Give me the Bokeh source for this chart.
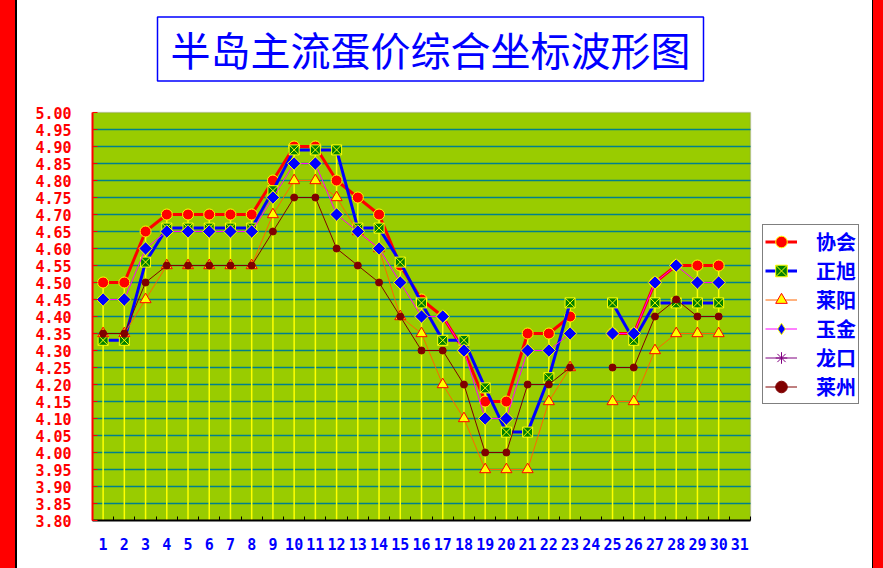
import numpy as np
from bokeh.plotting import figure
from bokeh.models import (Range1d, FixedTicker, NumeralTickFormatter, Legend, LegendItem,
                          ColumnDataSource, Label, BoxAnnotation)
from bokeh.embed import file_html
from bokeh.resources import INLINE

N = None
days = list(range(1, 32))
y_ticks = [3.80, 3.85, 3.90, 3.95, 4.00, 4.05, 4.10, 4.15, 4.20, 4.25, 4.30, 4.35, 4.40,
           4.45, 4.50, 4.55, 4.60, 4.65, 4.70, 4.75, 4.80, 4.85, 4.90, 4.95, 5.00]
title_text = "半岛主流蛋价综合坐标波形图"
names = ["协会", "正旭", "莱阳", "玉金", "龙口", "莱州"]

xiehui = [4.50, 4.50, 4.65, 4.70, 4.70, 4.70, 4.70, 4.70, 4.80, 4.90, 4.90, 4.80, 4.75, 4.70, 4.55, 4.45,
          4.40, 4.30, 4.15, 4.15, 4.35, 4.35, 4.40, N, 4.35, 4.35, 4.50, 4.55, 4.55, 4.55, N]
zhengxu = [4.33, 4.33, 4.56, 4.66, 4.66, 4.66, 4.66, 4.66, 4.77, 4.89, 4.89, 4.89, 4.66, 4.66, 4.56, 4.44,
           4.33, 4.33, 4.19, 4.06, 4.06, 4.22, 4.44, N, 4.44, 4.33, 4.44, 4.44, 4.44, 4.44, N]
laiyang = [4.35, 4.35, 4.45, 4.55, 4.55, 4.55, 4.55, 4.55, 4.70, 4.80, 4.80, 4.75, 4.65, 4.60, 4.40, 4.35,
           4.20, 4.10, 3.95, 3.95, 3.95, 4.15, 4.25, N, 4.15, 4.15, 4.30, 4.35, 4.35, 4.35, N]
yujin = [4.45, 4.45, 4.60, 4.65, 4.65, 4.65, 4.65, 4.65, 4.75, 4.85, 4.85, 4.70, 4.65, 4.60, 4.50, 4.40,
         4.40, 4.30, 4.10, 4.10, 4.30, 4.30, 4.35, N, 4.35, 4.35, 4.50, 4.55, 4.50, 4.50, N]
longkou = [N, N, N, N, N, N, N, N, N, N, N, N, N, N, N, N,
           N, N, N, N, N, N, N, N, N, N, N, N, N, N, N]
laizhou = [4.35, 4.35, 4.50, 4.55, 4.55, 4.55, 4.55, 4.55, 4.65, 4.75, 4.75, 4.60, 4.55, 4.50, 4.40, 4.30,
           4.30, 4.20, 4.00, 4.00, 4.20, 4.20, 4.25, N, 4.25, 4.25, 4.40, 4.45, 4.40, 4.40, N]

series = [xiehui, zhengxu, laiyang, yujin, longkou, laizhou]
arr = [np.array([np.nan if v is None else v for v in s], dtype=float) for s in series]

styles = [
    dict(lc="#FF0000", lw=3, marker="circle", size=11, fill="#FF0000", mline="#FFFF00", angle=0.0, lmarker="circle", lsize=11),
    dict(lc="#0000FF", lw=3, marker="square_x", size=10, fill="#008000", mline="#FFFF00", angle=0.0, lmarker="square_x", lsize=10),
    dict(lc="#FF6600", lw=1, marker="triangle", size=11, fill="#FFFF00", mline="#FF0000", angle=0.0, lmarker="triangle", lsize=11),
    dict(lc="#FF00FF", lw=1, marker="square", size=9.5, fill="#0000FF", mline="#FFFF00", angle=np.pi / 4, lmarker="diamond", lsize=16),
    dict(lc="#800080", lw=1, marker="asterisk", size=7, fill="#800080", mline="#800080", angle=0.0, lmarker="asterisk", lsize=7),
    dict(lc="#800000", lw=1, marker="circle", size=7, fill="#800000", mline="#800000", angle=0.0, lmarker="circle", lsize=6),
]

# ---- layout constants (pixels) ----
W, H = 883, 568
BL, BB = 92, 48                      # left / bottom borders
FRAME_W, FRAME_H = W - BL, H - BB    # frame spans to top & right edge
PLOT_W, PLOT_H = 658, 408            # size of the green plotting area
x0, x1 = 0.5, 31.5
y0, y1 = y_ticks[0], y_ticks[-1]
x_end = x0 + (x1 - x0) * FRAME_W / PLOT_W
y_end = y0 + (y1 - y0) * FRAME_H / PLOT_H

p = figure(width=W, height=H, x_range=Range1d(x0, x_end), y_range=Range1d(y0, y_end),
           output_backend="svg", toolbar_location=None,
           background_fill_color=None, border_fill_color=None,
           min_border_left=BL, min_border_right=0, min_border_top=0, min_border_bottom=BB,
           outline_line_color=None)
p.styles = {"background": "linear-gradient(to right, #FF0000 0px, #FF0000 15px, #000000 15px, "
                          "#000000 17px, #FFFFFF 17px, #FFFFFF calc(100% - 11px), #000000 calc(100% - 11px), "
                          "#000000 calc(100% - 10px), #FF0000 calc(100% - 10px))"}

# green plotting area with grey border
p.add_layout(BoxAnnotation(left=x0, right=x1, bottom=y0, top=y1, fill_color="#99CC00", fill_alpha=1,
                           line_color="#808080", line_width=1.5, level="underlay"))

p.xgrid.visible = False
p.ygrid.visible = False
gy = np.array(y_ticks[1:-1])
p.segment(x0=np.full(gy.shape, x0), y0=gy, x1=np.full(gy.shape, x1), y1=gy,
          line_color="#00808C", line_width=1.5)

ya = p.yaxis[0]
ya.bounds = (y0, y1)
ya.ticker = FixedTicker(ticks=y_ticks)
ya.formatter = NumeralTickFormatter(format="0.00")
ya.axis_line_color = "#FF0000"
ya.axis_line_width = 2
ya.major_tick_line_color = "#FF0000"
ya.major_tick_in = 5
ya.major_tick_out = 0
ya.minor_tick_line_color = None
ya.major_label_standoff = 21
ya.major_label_text_font = "DejaVu Sans Mono"
ya.major_label_text_font_size = "15px"
ya.major_label_text_font_style = "bold"
ya.major_label_text_color = "#FF0000"

xa = p.xaxis[0]
xa.bounds = (x0, x1)
xa.ticker = FixedTicker(ticks=days, minor_ticks=[d + 0.5 for d in [0] + days])
xa.axis_line_color = "#000000"
xa.axis_line_width = 2
xa.major_tick_line_color = None
xa.major_tick_in = 0
xa.major_tick_out = 0
xa.minor_tick_line_color = "#000000"
xa.minor_tick_in = 4
xa.minor_tick_out = 0
xa.major_label_standoff = 17
xa.major_label_text_font = "DejaVu Sans Mono"
xa.major_label_text_font_size = "15px"
xa.major_label_text_font_style = "bold"
xa.major_label_text_color = "#0000FF"

# drop lines (from the highest value of each day down to the axis)
stack = np.vstack(arr)
has = ~np.all(np.isnan(stack), axis=0)
tops = np.nanmax(np.where(np.isnan(stack), -np.inf, stack), axis=0)
dx = np.array(days, dtype=float)[has]
p.segment(x0=dx, y0=np.full(dx.shape, y0), x1=dx, y1=tops[has],
          line_color="#FFFF00", line_width=1.5)

items = []
for name, ys, st in zip(names, arr, styles):
    src = ColumnDataSource(dict(x=days, y=ys))
    lr = p.line("x", "y", source=src, line_color=st["lc"], line_width=st["lw"])
    sr = p.scatter("x", "y", source=src, marker=st["marker"], size=st["size"],
                   fill_color=st["fill"], line_color=st["mline"], line_width=1, angle=st["angle"])
    # key marker for the legend (one invisible NaN point so the legend can draw it)
    kr = p.scatter(x=[np.nan], y=[np.nan], marker=st["lmarker"], size=st["lsize"],
                   fill_color=st["fill"], line_color=st["mline"], line_width=1)
    items.append(LegendItem(label=name, renderers=[lr, kr]))

legend = Legend(items=items, location=(670, 116), orientation="vertical",
                label_text_font="Noto Sans CJK SC", label_text_font_size="20px",
                label_text_font_style="bold", label_text_color="#0000FF",
                glyph_width=32, glyph_height=29, label_height=29, label_standoff=19,
                spacing=0, padding=2, margin=0,
                border_line_color="#000000", border_line_width=1.5,
                background_fill_color="white", background_fill_alpha=1)
p.add_layout(legend, "center")

title = Label(x=338, y=471.5, x_units="screen", y_units="screen", text=title_text,
              text_align="center", text_baseline="middle",
              text_font="Noto Sans CJK SC", text_font_size="40px", text_color="#0000FF",
              border_line_color="#0000FF", border_line_width=1.5,
              background_fill_color="white", padding=dict(left=13, right=13, top=3, bottom=3))
p.add_layout(title)

open("out.html", "w").write(file_html(p, INLINE))
